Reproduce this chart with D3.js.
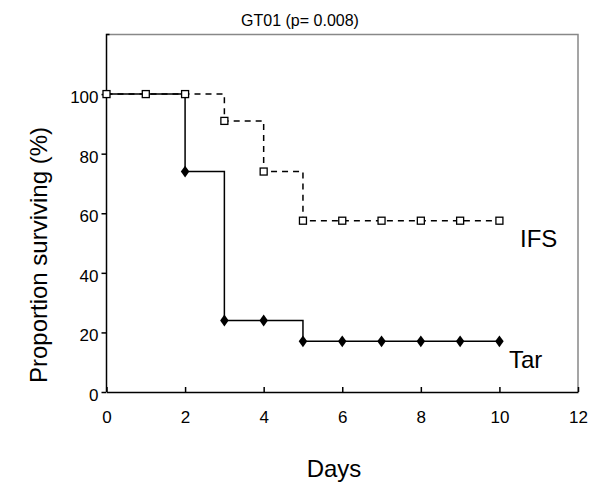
<!DOCTYPE html>
<html><head><meta charset="utf-8">
<script src="https://cdn.jsdelivr.net/npm/d3@7"></script>
<style>body{margin:0;background:#fff}svg{display:block}text{font-family:"Liberation Sans",Arial,sans-serif;fill:#000}</style>
</head><body>
<svg id="c" width="600" height="503"></svg>
<script>
const title = "GT01 (p= 0.008)";
const xTicks = [0,2,4,6,8,10,12];
const yTicks = [0,20,40,60,80,100];
// IFS (dashed, open squares)
const ifsDays = [0,1,2,3,4,5,6,7,8,9,10];
const ifsVals = [100,100,100,91,74,57.5,57.5,57.5,57.5,57.5,57.5];
// Tar (solid, filled diamonds)
const tarDays = [0,1,2,3,4,5,6,7,8,9,10];
const tarVals = [100,100,74,24,24,17,17,17,17,17,17];
const tarMarkerDays = [2,3,4,5,6,7,8,9,10];

const svg = d3.select("#c");
const L=106.5, R=578, T=34.5, B=392;
const x = d3.scaleLinear().domain([0,12]).range([L,R]);
const y = d3.scaleLinear().domain([0,120]).range([B,T]);

// frame top/right gray
svg.append("path").attr("d",`M${L},${T}H${R}V${B}`).attr("fill","none").attr("stroke","#888").attr("stroke-width",1.5);

// axes
const gx = svg.append("g").attr("transform",`translate(0,${B})`)
  .call(d3.axisBottom(x).tickValues(xTicks).tickSizeInner(-5).tickSizeOuter(0).tickPadding(19));
const gy = svg.append("g").attr("transform",`translate(${L},0)`)
  .call(d3.axisLeft(y).tickValues(yTicks).tickSizeInner(5).tickSizeOuter(0).tickPadding(3));
gy.select(".domain").attr("d",`M0,${B}V${T}H3`);
gy.selectAll("text").attr("dy","0.5em");
[gx,gy].forEach(g=>{
  g.selectAll("path,line").attr("stroke","#000").attr("stroke-width",1.5);
  g.selectAll("text").attr("font-size",17).attr("font-family","Liberation Sans, Arial, sans-serif");
});

const step = d3.line().curve(d3.curveStepAfter).x(d=>x(d[0])).y(d=>y(d[1]));
const ifs = ifsDays.map((d,i)=>[d,ifsVals[i]]);
const tar = tarDays.map((d,i)=>[d,tarVals[i]]);

svg.append("path").attr("d",step(ifs)).attr("fill","none").attr("stroke","#000")
  .attr("stroke-width",1.5).attr("stroke-dasharray","6,5");
svg.append("path").attr("d",step(tar)).attr("fill","none").attr("stroke","#000").attr("stroke-width",1.5);

// markers
svg.selectAll(".sq").data(ifs).join("rect")
  .attr("x",d=>x(d[0])-3.5).attr("y",d=>y(d[1])-3.5).attr("width",7).attr("height",7)
  .attr("fill","#fff").attr("stroke","#000").attr("stroke-width",1.3);
const dia = d3.symbol().type(d3.symbolDiamond).size(40);
svg.selectAll(".dm").data(tar.filter(d=>tarMarkerDays.includes(d[0]))).join("path")
  .attr("d",dia).attr("transform",d=>`translate(${x(d[0])},${y(d[1])}) scale(1.25,1)`).attr("fill","#000");

// labels
svg.append("text").attr("x",300).attr("y",26).attr("text-anchor","middle").attr("font-size",16).text(title);
svg.append("text").attr("x",520).attr("y",247).attr("font-size",24).text("IFS");
svg.append("text").attr("x",509).attr("y",368).attr("font-size",24).text("Tar");
svg.append("text").attr("x",334).attr("y",477).attr("text-anchor","middle").attr("font-size",24).text("Days");
svg.append("text").attr("transform","translate(47,255) rotate(-90)").attr("text-anchor","middle").attr("font-size",24).text("Proportion surviving (%)");
</script>
</body></html>
